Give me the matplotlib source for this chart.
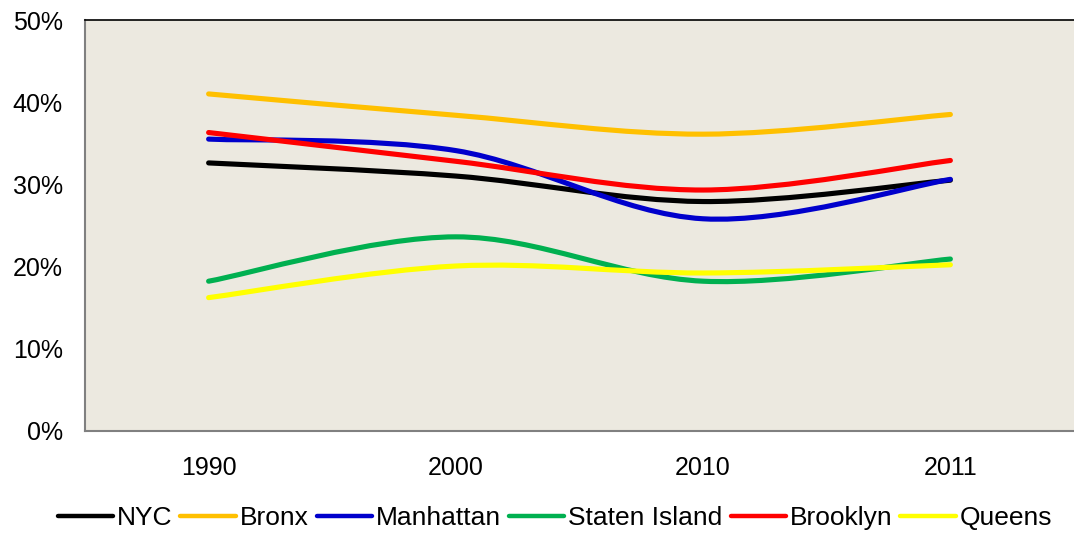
import matplotlib
matplotlib.use("Agg")
import matplotlib.pyplot as plt
from matplotlib.path import Path
from matplotlib.patches import PathPatch
from matplotlib.lines import Line2D
from matplotlib.ticker import FuncFormatter

plt.rcParams['font.family'] = ['Liberation Sans', 'DejaVu Sans']

# data (percent)
years = ['1990', '2000', '2010', '2011']
nyc = [32.6, 31.0, 27.9, 30.5]
bronx = [41.0, 38.4, 36.1, 38.5]
manhattan = [35.5, 34.1, 25.8, 30.6]
staten_island = [18.2, 23.6, 18.2, 20.9]
brooklyn = [36.3, 32.8, 29.3, 32.9]
queens = [16.2, 20.05, 19.2, 20.2]

names = ['NYC', 'Bronx', 'Manhattan', 'Staten Island', 'Brooklyn', 'Queens']
series = [nyc, bronx, manhattan, staten_island, brooklyn, queens]
colors = ['#000000', '#FFC000', '#0000CC', '#00B050', '#FF0000', '#FFFF00']


def smooth_path(xs, ys):
    # Excel-style smoothed line: cubic Bezier through the points
    pts = list(zip(xs, ys))
    verts = [pts[0]]
    codes = [Path.MOVETO]
    n = len(pts)
    for i in range(n - 1):
        p0 = pts[i - 1] if i > 0 else pts[i]
        p1 = pts[i]
        p2 = pts[i + 1]
        p3 = pts[i + 2] if i + 2 < n else pts[i + 1]
        c1 = (p1[0] + (p2[0] - p0[0]) / 6, p1[1] + (p2[1] - p0[1]) / 6)
        c2 = (p2[0] - (p3[0] - p1[0]) / 6, p2[1] - (p3[1] - p1[1]) / 6)
        verts += [c1, c2, p2]
        codes += [Path.CURVE4] * 3
    return Path(verts, codes)


fig = plt.figure(figsize=(10.74, 5.34), dpi=100)
ax = fig.add_axes([85 / 1074, 103.3 / 534, 989 / 1074, 410.7 / 534])
ax.set_facecolor('#ECE9E0')

xpos = [i + 0.5 for i in range(len(years))]
for vals, c in zip(series, colors):
    ax.add_patch(PathPatch(smooth_path(xpos, vals), facecolor='none',
                           edgecolor=c, linewidth=3.7, capstyle='round',
                           joinstyle='round'))

ax.set_xlim(0, len(years))
ax.set_ylim(0, 50)
ax.set_xticks(xpos)
ax.set_xticklabels(years)
ax.set_yticks(range(0, 51, 10))
ax.yaxis.set_major_formatter(FuncFormatter(lambda v, p: '%d%%' % v))
ax.tick_params(length=0, labelsize=18, colors='#000000')
ax.tick_params(axis='y', pad=16)
ax.tick_params(axis='x', pad=18)

ax.spines['right'].set_visible(False)
ax.spines['top'].set_color('#000000')
ax.spines['top'].set_linewidth(1.2)
ax.spines['left'].set_color('#808080')
ax.spines['left'].set_linewidth(1.5)
ax.spines['bottom'].set_color('#808080')
ax.spines['bottom'].set_linewidth(1.5)

handles = [Line2D([0], [0], color=c, linewidth=3.2, solid_capstyle='round')
           for c in colors]
fig.legend(handles, names, loc='center', bbox_to_anchor=(555 / 1074, 1 - 518 / 534),
           ncol=6, frameon=False, fontsize=19, handlelength=2.1,
           handletextpad=0.15, columnspacing=0.3)

fig.savefig('out.png', dpi=100)
